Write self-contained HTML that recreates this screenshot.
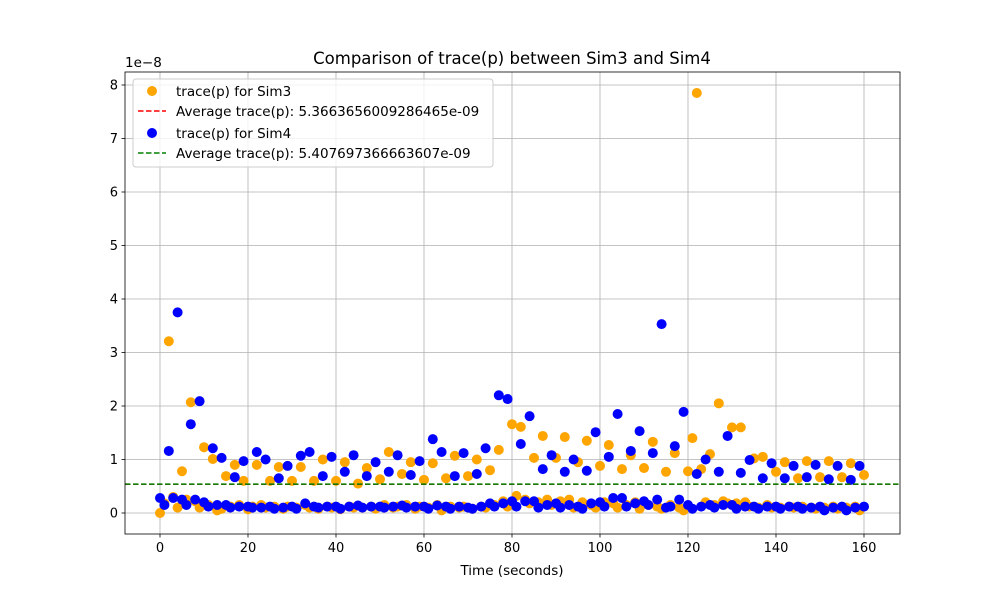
<!DOCTYPE html>
<html><head><meta charset="utf-8"><style>
body{margin:0;background:#fff;font-family:"DejaVu Sans","Liberation Sans",sans-serif}
</style></head><body>
<svg id="chart" width="1000" height="600" xmlns="http://www.w3.org/2000/svg" font-family="DejaVu Sans, Liberation Sans, sans-serif">
<rect width="1000" height="600" fill="#fff"/>
<g id="grid"></g><g id="marks"></g><g id="axes"></g>
<text x="512" y="64" text-anchor="middle" font-size="16.5">Comparison of trace(p) between Sim3 and Sim4</text>
<text x="512" y="575" text-anchor="middle" font-size="13.5">Time (seconds)</text>
<text x="125" y="67" font-size="13.5">1e−8</text>
<g>
<rect x="133" y="79" width="360" height="88" rx="3" fill="#fff" fill-opacity="0.8" stroke="#ccc"/>
<circle cx="152" cy="91" r="5" fill="orange"/>
<text x="176" y="96" font-size="13.5">trace(p) for Sim3</text>
<line x1="138" y1="111" x2="166" y2="111" stroke="red" stroke-width="1.5" stroke-dasharray="5.5,2.5"/>
<text x="176" y="116" font-size="13.5">Average trace(p): 5.3663656009286465e-09</text>
<circle cx="152" cy="133" r="5" fill="blue"/>
<text x="176" y="138" font-size="13.5">trace(p) for Sim4</text>
<line x1="138" y1="153" x2="166" y2="153" stroke="green" stroke-width="1.5" stroke-dasharray="5.5,2.5"/>
<text x="176" y="158" font-size="13.5">Average trace(p): 5.407697366663607e-09</text>
</g>
</svg>
<script>
const sim3 = [0.00,0.18,3.21,0.30,0.10,0.78,0.25,2.07,0.22,0.10,1.23,0.15,1.01,0.05,0.08,0.69,0.12,0.90,0.15,0.60,0.07,0.12,0.90,0.15,0.10,0.60,0.12,0.86,0.08,0.12,0.60,0.10,0.86,0.15,0.10,0.60,0.08,1.00,0.12,0.10,0.60,0.07,0.95,0.12,0.10,0.55,0.10,0.84,0.12,0.08,0.63,0.15,1.14,0.10,0.12,0.73,0.15,0.95,0.08,0.12,0.62,0.10,0.93,0.15,0.05,0.65,0.12,1.07,0.10,0.12,0.69,0.08,1.00,0.12,0.10,0.80,0.15,1.18,0.22,0.12,1.66,0.32,1.61,0.25,0.18,1.03,0.20,1.44,0.25,0.15,1.03,0.22,1.42,0.25,0.10,0.95,0.20,1.35,0.15,0.10,0.88,0.20,1.27,0.18,0.10,0.82,0.15,1.08,0.20,0.08,0.84,0.15,1.33,0.12,0.08,0.77,0.15,1.12,0.10,0.05,0.78,1.40,7.85,0.82,0.20,1.10,0.15,2.05,0.22,0.18,1.60,0.18,1.60,0.20,0.12,1.02,0.10,1.05,0.15,0.10,0.77,0.10,0.95,0.12,0.10,0.65,0.12,0.97,0.10,0.08,0.67,0.10,0.97,0.12,0.08,0.67,0.10,0.93,0.12,0.05,0.71];
const sim4 = [0.28,0.15,1.16,0.28,3.75,0.25,0.15,1.66,0.25,2.09,0.20,0.12,1.21,0.15,1.03,0.15,0.10,0.67,0.12,0.97,0.12,0.10,1.14,0.10,1.00,0.12,0.08,0.65,0.10,0.88,0.12,0.08,1.07,0.18,1.14,0.12,0.10,0.69,0.12,1.05,0.12,0.08,0.77,0.12,1.08,0.14,0.10,0.69,0.12,0.95,0.12,0.10,0.77,0.12,1.08,0.14,0.10,0.71,0.12,0.97,0.12,0.08,1.38,0.14,1.14,0.12,0.08,0.69,0.12,1.12,0.10,0.08,0.73,0.12,1.21,0.18,0.12,2.20,0.18,2.13,0.22,0.12,1.29,0.22,1.81,0.22,0.10,0.82,0.15,1.08,0.18,0.10,0.77,0.15,1.00,0.12,0.08,0.79,0.18,1.51,0.20,0.12,1.05,0.28,1.85,0.28,0.12,1.16,0.18,1.53,0.22,0.15,1.12,0.25,3.53,0.10,0.12,1.25,0.25,1.89,0.15,0.08,0.73,0.12,1.00,0.15,0.10,0.77,0.15,1.44,0.15,0.08,0.75,0.12,0.99,0.12,0.08,0.65,0.12,0.93,0.12,0.08,0.65,0.12,0.88,0.12,0.08,0.67,0.10,0.90,0.12,0.05,0.63,0.10,0.88,0.12,0.05,0.62,0.10,0.88,0.12];
const avg3 = 0.53663656;
const avg4 = 0.54076974;
const xTicks = [0,20,40,60,80,100,120,140,160];
const yTicks = [0,1,2,3,4,5,6,7,8];

const L=125,R=900,T=72,B=534;
const X=t=>160+t*4.4;
const Y=v=>513-v*53.5;
const NS="http://www.w3.org/2000/svg";
function mk(tag,attrs,parent){const e=document.createElementNS(NS,tag);for(const k in attrs)e.setAttribute(k,attrs[k]);parent.appendChild(e);return e;}
const grid=document.getElementById('grid'),marks=document.getElementById('marks'),axes=document.getElementById('axes');
xTicks.forEach(t=>{
  const g=mk('line',{x1:X(t),x2:X(t),y1:T,y2:B,stroke:'#b0b0b0','stroke-width':0.8},grid);
  
  
  mk('line',{x1:X(t),x2:X(t),y1:B,y2:B+3.5,stroke:'#000','stroke-width':0.8},axes);
  const tx=mk('text',{x:X(t),y:B+18,'text-anchor':'middle','font-size':13},axes);
  tx.textContent=t;
  
  
});
yTicks.forEach(v=>{
  const g=mk('line',{x1:L,x2:R,y1:Y(v),y2:Y(v),stroke:'#b0b0b0','stroke-width':0.8},grid);
  
  
  mk('line',{x1:L-3.5,x2:L,y1:Y(v),y2:Y(v),stroke:'#000','stroke-width':0.8},axes);
  const tx=mk('text',{x:L-7,y:Y(v)+4.5,'text-anchor':'end','font-size':13},axes);
  tx.textContent=v;
  
  
});
sim3.forEach((v,i)=>{
  const c=mk('circle',{cx:X(i),cy:Y(v),r:5,fill:'orange'},marks);
  
  
});
sim4.forEach((v,i)=>{
  const c=mk('circle',{cx:X(i),cy:Y(v),r:5,fill:'blue'},marks);
  
  
});
const a3=mk('line',{x1:L,x2:R,y1:Y(avg3),y2:Y(avg3),stroke:'red','stroke-width':1.5,'stroke-dasharray':'5.5,2.5'},marks);


const a4=mk('line',{x1:L,x2:R,y1:Y(avg4),y2:Y(avg4),stroke:'green','stroke-width':1.5,'stroke-dasharray':'5.5,2.5'},marks);


const fr=mk('rect',{x:L,y:T,width:R-L,height:B-T,fill:'none',stroke:'#000','stroke-width':0.8},axes);


</script>
</body></html>
